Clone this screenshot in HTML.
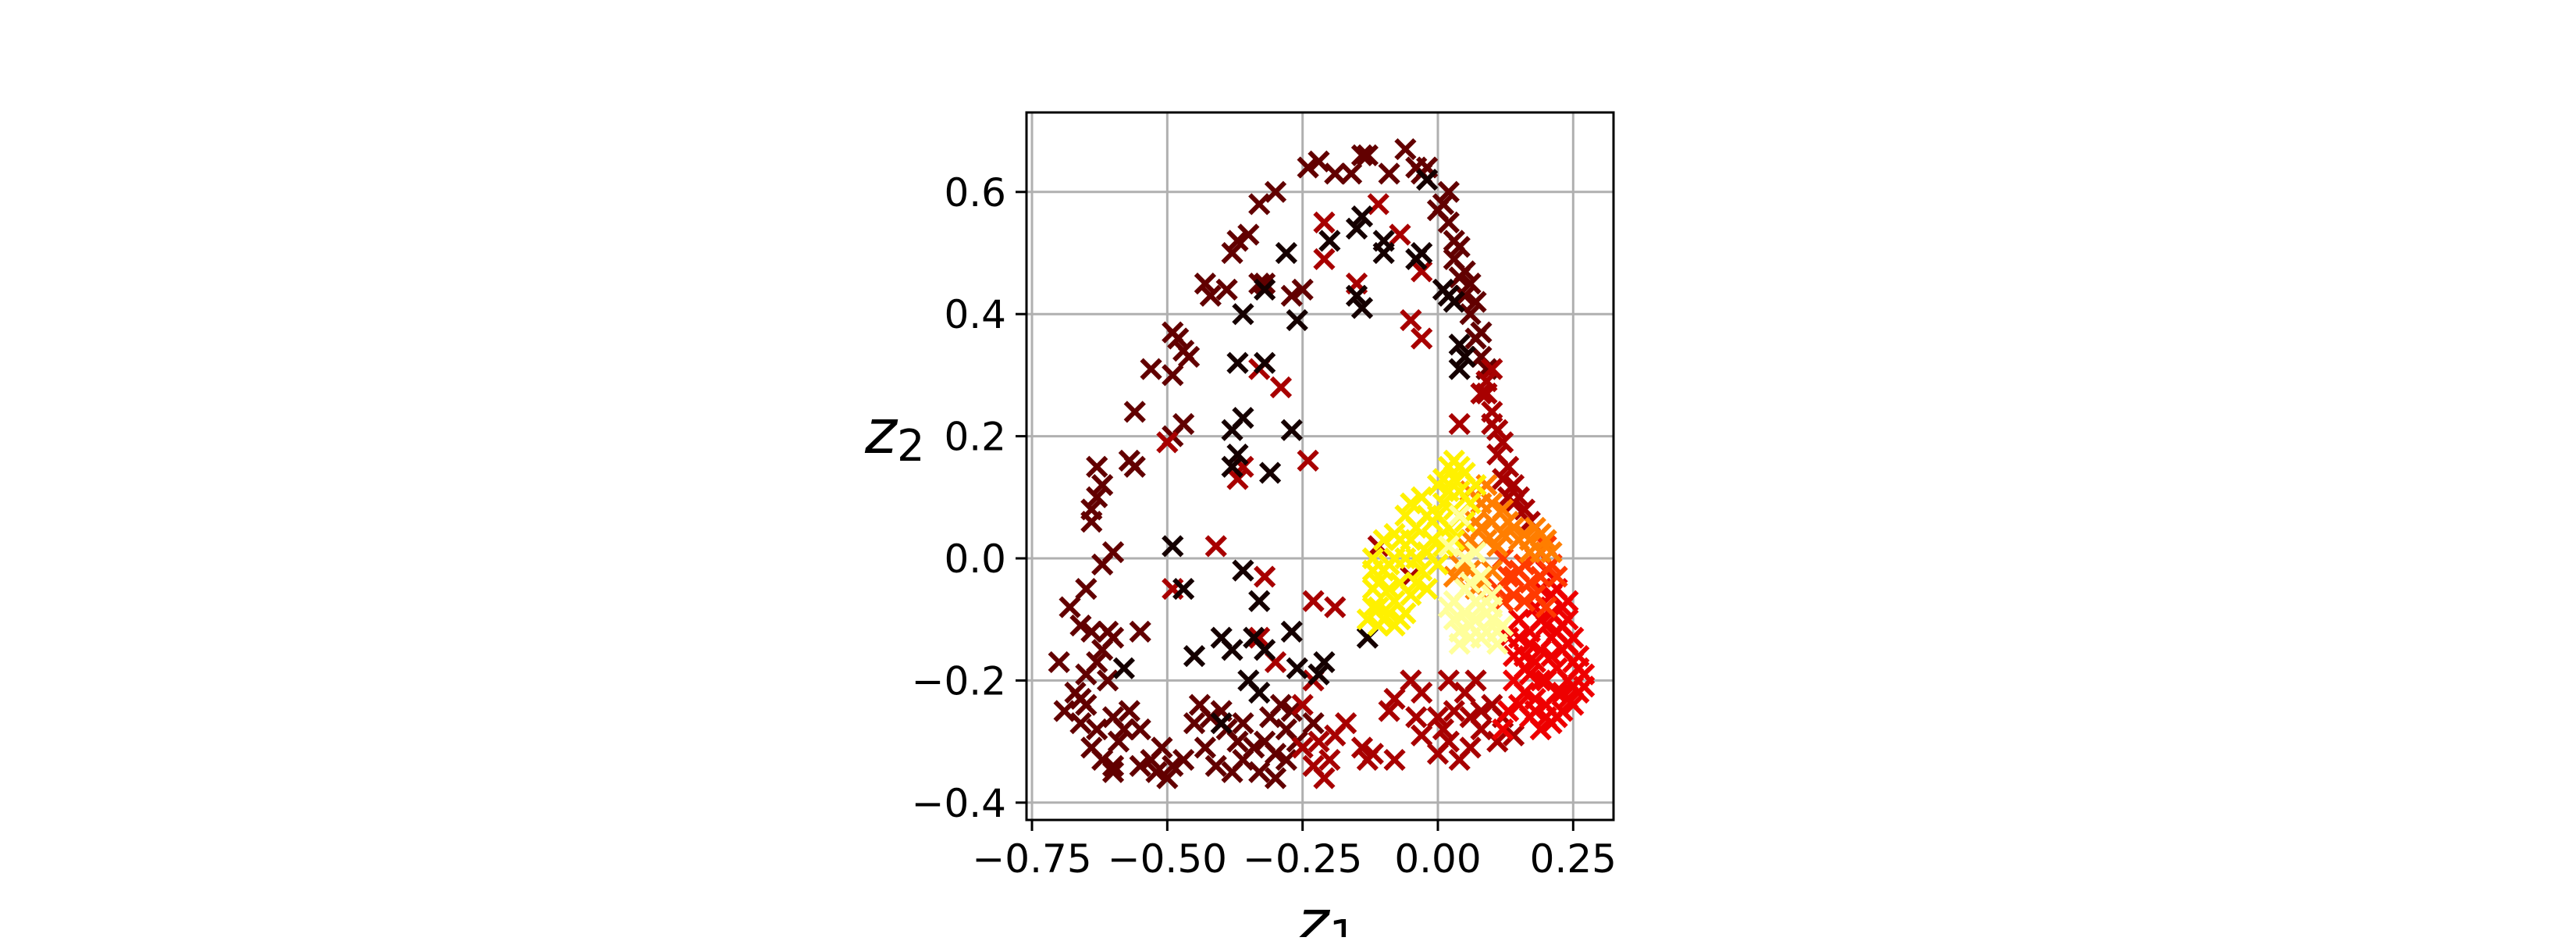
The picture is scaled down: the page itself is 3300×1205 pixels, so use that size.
<!DOCTYPE html>
<html><head><meta charset="utf-8"><style>
html,body{margin:0;padding:0;background:#fff;}
svg text{font-family:"DejaVu Sans","Liberation Sans",sans-serif;}
</style></head><body>
<svg id="chart" width="3300" height="1200" viewBox="0 0 3300 1200" xmlns="http://www.w3.org/2000/svg">
<rect x="0" y="0" width="3300" height="1200" fill="#fff"/>
<g id="grid"></g>
<g id="points"></g>
<rect x="1315" y="144" width="752" height="906" fill="none" stroke="#000" stroke-width="3"/>
<g id="ticks"></g>
<text x="1700" y="1208" font-size="78" font-style="italic" text-anchor="middle">z<tspan font-size="56" font-style="normal" dy="10">1</tspan></text>
<text x="1108" y="580" font-size="78" font-style="italic">z<tspan font-size="56" font-style="normal" dy="10">2</tspan></text>
</svg>
<script>
const xTicks=[-0.75,-0.5,-0.25,0,0.25];
const xTickLabels=["−0.75","−0.50","−0.25","0.00","0.25"];
const yTicks=[-0.4,-0.2,0,0.2,0.4,0.6];
const yTickLabels=["−0.4","−0.2","0.0","0.2","0.4","0.6"];
const colorLevels={k:0.03,d:0.14,m:0.24,r:0.34,a:0.45,o:0.55,y:0.72,l:0.9};
const groupD=[[-0.33,0.58],[-0.3,0.6],[-0.37,0.52],[-0.38,0.5],[-0.35,0.53],[-0.43,0.45],[-0.42,0.43],[-0.39,0.44],[-0.33,0.45],[-0.32,0.45],[-0.25,0.44],[-0.27,0.43],[-0.49,0.37],[-0.48,0.36],[-0.47,0.34],[-0.46,0.33],[-0.53,0.31],[-0.49,0.3],[-0.56,0.24],[-0.47,0.22],[-0.49,0.2],[-0.57,0.16],[-0.56,0.15],[-0.63,0.15],[-0.62,0.12],[-0.63,0.1],[-0.64,0.08],[-0.64,0.06],[-0.6,0.01],[-0.62,-0.01],[-0.65,-0.05],[-0.68,-0.08],[-0.66,-0.11],[-0.7,-0.17],[-0.64,-0.12],[-0.6,-0.13],[-0.62,-0.15],[-0.55,-0.12],[-0.67,-0.22],[-0.65,-0.24],[-0.69,-0.25],[-0.66,-0.27],[-0.63,-0.28],[-0.6,-0.26],[-0.58,-0.28],[-0.64,-0.31],[-0.62,-0.33],[-0.6,-0.34],[-0.6,-0.35],[-0.55,-0.34],[-0.53,-0.33],[-0.51,-0.31],[-0.49,-0.34],[-0.5,-0.36],[-0.47,-0.33],[-0.55,-0.28],[-0.57,-0.25],[-0.61,-0.2],[-0.63,-0.17],[-0.44,-0.24],[-0.42,-0.26],[-0.4,-0.25],[-0.39,-0.28],[-0.37,-0.3],[-0.43,-0.31],[-0.41,-0.34],[-0.38,-0.35],[-0.36,-0.33],[-0.34,-0.31],[-0.32,-0.3],[-0.3,-0.32],[-0.28,-0.28],[-0.26,-0.3],[-0.33,-0.35],[-0.3,-0.36],[-0.28,-0.33],[-0.31,-0.26],[-0.29,-0.24],[-0.27,-0.25],[-0.24,0.64],[-0.22,0.65],[-0.19,0.63],[-0.16,0.63],[-0.14,0.66],[-0.13,0.66],[-0.09,0.63],[-0.06,0.67],[-0.04,0.64],[-0.03,0.63],[-0.02,0.64],[0.01,0.58],[0.02,0.55],[0.03,0.52],[0.03,0.49],[0.04,0.46],[0.05,0.43],[0.06,0.4],[0.07,0.36],[0.08,0.33],[0.09,0.31],[0.02,0.6],[0.0,0.57],[0.04,0.51],[0.05,0.47],[0.06,0.45],[0.07,0.42],[0.08,0.37],[-0.66,-0.23],[-0.59,-0.3],[-0.45,-0.27],[-0.36,-0.27],[-0.23,-0.27],[-0.52,-0.35],[-0.61,-0.12],[-0.65,-0.19]];
const groupM=[[-0.25,-0.31],[-0.23,-0.34],[-0.22,-0.3],[-0.2,-0.33],[-0.19,-0.29],[-0.17,-0.27],[-0.21,-0.36],[-0.14,-0.31],[-0.13,-0.33],[-0.12,-0.32],[-0.08,-0.33],[-0.25,-0.24],[-0.23,-0.2],[-0.09,-0.25],[-0.08,-0.23],[-0.05,-0.2],[-0.03,-0.22],[-0.03,-0.29],[0,-0.32],[0.02,-0.3],[0.04,-0.33],[0.06,-0.31],[0.08,-0.28],[0.03,-0.25],[0.05,-0.22],[0.07,-0.2],[0.1,-0.24],[0.12,-0.26],[0.14,-0.29],[0.11,-0.3],[0.02,-0.2],[0.0,-0.26],[-0.04,-0.26],[-0.41,0.02],[-0.32,-0.03],[-0.23,-0.07],[-0.19,-0.08],[-0.49,-0.05],[-0.5,0.19],[-0.24,0.16],[-0.29,0.28],[-0.33,0.31],[-0.36,0.15],[-0.37,0.13],[-0.21,0.55],[-0.21,0.49],[-0.15,0.45],[-0.07,0.53],[-0.03,0.47],[-0.05,0.39],[-0.03,0.36],[-0.11,0.58],[-0.33,-0.13],[-0.3,-0.17],[-0.11,0.02],[-0.05,-0.03],[0.08,0.27],[0.04,0.22],[0.1,0.22],[0.09,0.27],[0.1,0.24],[0.11,0.21],[0.12,0.19],[0.13,0.15],[0.12,0.13],[0.14,0.12],[0.15,0.1],[0.16,0.08],[0.17,0.06],[0.14,0.09],[0.09,0.29],[0.1,0.31],[0.11,0.17],[0.13,0.1],[0.08,-0.25],[0.01,-0.28],[0.06,-0.26]];
const groupK=[[-0.26,0.39],[-0.14,0.41],[-0.15,0.43],[-0.1,0.5],[-0.1,0.52],[-0.04,0.49],[-0.03,0.5],[-0.15,0.54],[-0.14,0.56],[-0.2,0.52],[-0.28,0.5],[-0.32,0.44],[-0.36,0.4],[-0.32,0.32],[-0.37,0.32],[-0.38,0.21],[-0.36,0.23],[-0.27,0.21],[-0.37,0.17],[-0.38,0.15],[-0.31,0.14],[0.02,0.43],[0.03,0.42],[0.04,0.35],[0.05,0.33],[0.04,0.31],[-0.49,0.02],[-0.47,-0.05],[-0.36,-0.02],[-0.33,-0.07],[-0.4,-0.13],[-0.38,-0.15],[-0.45,-0.16],[-0.34,-0.13],[-0.32,-0.15],[-0.26,-0.18],[-0.22,-0.19],[-0.21,-0.17],[-0.13,-0.13],[-0.58,-0.18],[-0.35,-0.2],[-0.33,-0.22],[-0.4,-0.27],[-0.27,-0.12],[-0.02,0.62],[0.01,0.44]];
const groupR=[[0.2,-0.02],[0.22,-0.05],[0.24,-0.07],[0.21,-0.09],[0.23,-0.11],[0.25,-0.13],[0.26,-0.16],[0.27,-0.19],[0.26,-0.22],[0.25,-0.24],[0.23,-0.25],[0.21,-0.27],[0.19,-0.28],[0.17,-0.26],[0.15,-0.24],[0.18,-0.23],[0.2,-0.2],[0.22,-0.18],[0.24,-0.2],[0.19,-0.15],[0.21,-0.13],[0.17,-0.12],[0.15,-0.1],[0.18,-0.08],[0.19,-0.05],[0.16,-0.16],[0.14,-0.2],[0.22,-0.22],[0.25,-0.17],[0.17,-0.19],[0.13,-0.25],[0.12,-0.28],[0.23,-0.15],[0.2,-0.11],[0.24,-0.1],[0.18,-0.17],[0.13,-0.13],[0.21,-0.06],[0.23,-0.08],[0.22,-0.12],[0.24,-0.14],[0.26,-0.18],[0.25,-0.21],[0.23,-0.22],[0.2,-0.24],[0.18,-0.25],[0.16,-0.22],[0.19,-0.2],[0.21,-0.16],[0.17,-0.14],[0.15,-0.13],[0.19,-0.1],[0.16,-0.18],[0.14,-0.16],[0.2,-0.26],[0.22,-0.26],[0.24,-0.23],[0.27,-0.21]];
const groupA=[[0.12,0.0],[0.15,-0.02],[0.18,0.0],[0.2,0.02],[0.17,-0.04],[0.13,-0.03],[0.16,-0.07],[0.2,-0.08],[0.22,-0.03],[0.11,-0.05],[0.14,-0.06],[0.16,-0.01],[0.19,-0.03],[0.18,-0.06],[0.14,-0.03],[0.21,-0.01],[0.12,-0.07]];
const groupO=[[0.16,0.04],[0.18,0.05],[0.2,0.03],[0.19,0.01],[0.21,0.01],[0.14,0.05],[0.12,0.08],[0.1,0.06],[0.08,0.09],[0.09,0.03],[0.06,-0.02],[0.08,-0.04],[0.03,-0.03],[0.05,0.02],[0.11,0.02],[0.17,0.03],[0.07,0.06],[0.15,0.03],[0.17,0.01],[0.19,0.04],[0.13,0.06],[0.1,0.09],[0.08,0.05],[0.06,0.03],[0.04,-0.01],[0.1,-0.02],[0.07,-0.05],[0.12,0.04],[0.09,0.12],[0.06,0.11]];
const groupY=[[-0.1,-0.02],[-0.12,-0.05],[-0.11,-0.08],[-0.13,-0.1],[-0.1,-0.1],[-0.08,-0.07],[-0.07,-0.04],[-0.08,0.0],[-0.07,0.03],[-0.1,0.03],[-0.06,0.07],[-0.03,0.1],[-0.02,0.07],[0.0,0.12],[0.02,0.15],[0.03,0.16],[0.05,0.14],[0.04,0.11],[0.06,0.09],[0.02,0.05],[-0.01,0.03],[-0.04,0.0],[-0.05,-0.06],[-0.09,-0.09],[0.01,0.09],[0.07,0.12],[-0.03,-0.02],[0.0,-0.01],[-0.12,-0.02],[-0.04,0.05],[0.03,0.13],[-0.06,-0.09],[-0.11,-0.04],[-0.12,-0.08],[-0.09,-0.05],[-0.09,-0.01],[-0.08,0.04],[-0.05,0.03],[-0.06,0.0],[-0.04,-0.04],[-0.02,0.01],[-0.01,0.06],[0.01,0.13],[0.04,0.15],[0.02,0.11],[0.0,0.07],[0.03,0.08],[-0.02,-0.05],[-0.07,-0.1],[-0.11,-0.11],[-0.05,0.09],[0.01,0.02],[0.03,0.03],[0.05,0.06],[-0.12,0.0],[-0.08,-0.11]];
const groupL=[[0.03,-0.07],[0.05,-0.09],[0.07,-0.1],[0.09,-0.12],[0.11,-0.14],[0.06,-0.13],[0.04,-0.12],[0.08,-0.08],[0.1,-0.1],[0.12,-0.11],[0.02,0.02],[0.05,0.0],[0.07,0.01],[0.04,0.07],[0.1,-0.06],[0.03,-0.1],[0.05,-0.05],[0.07,-0.07],[0.09,-0.09],[0.06,-0.11],[0.08,-0.13],[0.11,-0.12],[0.02,-0.08],[0.04,-0.14],[0.1,-0.08],[0.06,-0.04],[0.08,-0.03]];
const groups=[["d",groupD],["m",groupM],["k",groupK],["r",groupR],["a",groupA],["o",groupO],["y",groupY],["l",groupL]];

const X0=1842, XS=693.3, Y0=715, YS=782;
function sx(v){return X0+v*XS;}
function sy(v){return Y0-v*YS;}
function hot(c){
  const r=Math.min(1,c/0.365), g=Math.max(0,Math.min(1,(c-0.365)/0.375)), b=Math.max(0,Math.min(1,(c-0.746)/0.254));
  return `rgb(${Math.round(r*255)},${Math.round(g*255)},${Math.round(b*255)})`;
}
const NS="http://www.w3.org/2000/svg";
const grid=document.getElementById('grid'), ticks=document.getElementById('ticks'), pts=document.getElementById('points');
function mk(tag,attrs,parent){const e=document.createElementNS(NS,tag);for(const k in attrs)e.setAttribute(k,attrs[k]);parent.appendChild(e);return e;}
xTicks.forEach((v,i)=>{
  const x=sx(v);
  const gl=mk('line',{x1:x,x2:x,y1:144,y2:1050,stroke:'#b0b0b0','stroke-width':3},grid);
  
  
  const t=mk('line',{x1:x,x2:x,y1:1050,y2:1064,stroke:'#000','stroke-width':3},ticks);
  
  
  const lb=mk('text',{x:x,y:1117,'font-size':50,'text-anchor':'middle'},ticks);
  lb.textContent=xTickLabels[i];
  
  
});
yTicks.forEach((v,i)=>{
  const y=sy(v);
  const gl=mk('line',{x1:1315,x2:2067,y1:y,y2:y,stroke:'#b0b0b0','stroke-width':3},grid);
  
  
  const t=mk('line',{x1:1301,x2:1315,y1:y,y2:y,stroke:'#000','stroke-width':3},ticks);
  
  
  const lb=mk('text',{x:1289,y:y+18,'font-size':50,'text-anchor':'end'},ticks);
  lb.textContent=yTickLabels[i];
  
  
});
const h=12;
groups.forEach(([code,arr])=>{
  const col=hot(colorLevels[code]);
  arr.forEach(p=>{
    const x=sx(p[0]), y=sy(p[1]);
    const m=mk('path',{d:`M${x-h},${y-h}L${x+h},${y+h}M${x-h},${y+h}L${x+h},${y-h}`,stroke:col,'stroke-width':6,fill:'none'},pts);
    
    
  });
});
</script>
</body></html>
